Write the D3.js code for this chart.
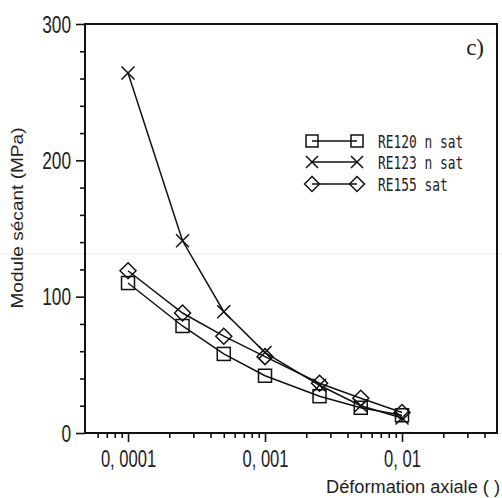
<!DOCTYPE html>
<html><head><meta charset="utf-8">
<script src="https://cdn.jsdelivr.net/npm/d3@7"></script>
<style>body{margin:0;background:#fff}svg{display:block}</style>
</head><body>
<svg id="c" width="502" height="498"></svg>
<script>
const strains = [0.0001, 0.00025, 0.0005, 0.001, 0.0025, 0.005, 0.01];
const re120 = [110, 78.5, 58, 42, 27, 18.5, 13];
const re123 = [264, 141, 89, 59, 35, 20, 11];
const re155 = [119, 88, 71, 56, 36.5, 25.5, 15];
const seriesNames = ["RE120 n sat", "RE123 n sat", "RE155 sat"];
const seriesMarkers = ["square", "cross", "diamond"];
const xMajorTicks = [0.0001, 0.001, 0.01];
const xTickLabels = ["0, 0001", "0, 001", "0, 01"];
const yMajorTicks = [0, 100, 200, 300];
const yTickLabels = ["0", "100", "200", "300"];
const yMinorStep = 20;

const svg = d3.select("#c");
const L = 85, R = 497, T = 24, B = 433;
const x = d3.scaleLog().domain([4.853e-5, 0.04935]).range([L, R]);
const y = d3.scaleLinear().domain([0, 300]).range([B, T]);

// faint scan line
svg.append("line").attr("x1",0).attr("x2",502).attr("y1",254).attr("y2",254)
  .attr("stroke","#e6e6e6").attr("stroke-width",1);

const xMinor = [];
[-5,-4,-3,-2].forEach(e=>{for(let k=2;k<=9;k++){const v=k*Math.pow(10,e); if(v>x.domain()[0]*1.05 && v<x.domain()[1]) xMinor.push(v);}});
const yMinor = d3.range(0, 301, yMinorStep).filter(v=>!yMajorTicks.includes(v));

function narrow(sel, f){
  sel.each(function(){ const w=this.getComputedTextLength(); d3.select(this).attr("textLength", w*f).attr("lengthAdjust","spacingAndGlyphs"); });
}

const gx = svg.append("g").attr("transform",`translate(0,${B})`);
gx.append("g").call(d3.axisBottom(x).tickValues(xMinor).tickSize(5).tickFormat(""));
gx.append("g").call(d3.axisBottom(x).tickValues(xMajorTicks).tickSize(9)
  .tickFormat((d,i)=>xTickLabels[i]));
gx.selectAll(".domain").remove();
gx.selectAll("line").attr("stroke","#111").attr("stroke-width",1.6);
gx.selectAll("text").attr("y",34).attr("dy",0)
  .attr("font-family","'Liberation Sans', Arial, sans-serif")
  .attr("font-size",23).attr("fill","#222").call(narrow, 0.72);

const gy = svg.append("g").attr("transform",`translate(${L},0)`);
gy.append("g").call(d3.axisLeft(y).tickValues(yMinor).tickSize(5).tickFormat(""));
gy.append("g").call(d3.axisLeft(y).tickValues(yMajorTicks).tickSize(9)
  .tickFormat((d,i)=>yTickLabels[i]));
gy.selectAll(".domain").remove();
gy.selectAll("line").attr("stroke","#111").attr("stroke-width",1.6);
gy.selectAll("text").attr("x",-14).attr("dy","0.36em")
  .attr("font-family","'Liberation Sans', Arial, sans-serif")
  .attr("font-size",23).attr("fill","#222").call(narrow, 0.75);

svg.append("rect").attr("x",L).attr("y",T).attr("width",R-L).attr("height",B-T)
  .attr("fill","none").attr("stroke","#111").attr("stroke-width",2);

function marker(g, type, cx, cy, s){
  if(type==="square"){
    g.append("rect").attr("x",cx-s/2).attr("y",cy-s/2).attr("width",s).attr("height",s)
      .attr("fill","none").attr("stroke","#111").attr("stroke-width",1.5);
  } else if(type==="cross"){
    g.append("path").attr("d",`M${cx-s/2},${cy-s/2}L${cx+s/2},${cy+s/2}M${cx-s/2},${cy+s/2}L${cx+s/2},${cy-s/2}`)
      .attr("stroke","#111").attr("stroke-width",1.5).attr("fill","none");
  } else {
    g.append("path").attr("d",`M${cx},${cy-s/2}L${cx+s/2},${cy}L${cx},${cy+s/2}L${cx-s/2},${cy}Z`)
      .attr("stroke","#111").attr("stroke-width",1.5).attr("fill","none");
  }
}
const sizes = {square:13, cross:13, diamond:16};
const allSeries = [re120, re123, re155];
const line = d3.line().x(d=>x(d[0])).y(d=>y(d[1]));
allSeries.forEach((vals,i)=>{
  const pts = strains.map((s,j)=>[s, vals[j]]);
  const g = svg.append("g");
  g.append("path").attr("d", line(pts)).attr("fill","none").attr("stroke","#111").attr("stroke-width",1.5);
  pts.forEach(p=>marker(g, seriesMarkers[i], x(p[0]), y(p[1]), sizes[seriesMarkers[i]]));
});

const legY = [141, 162, 184];
const legSizes = {square:12, cross:12, diamond:15};
seriesNames.forEach((n,i)=>{
  const g = svg.append("g");
  g.append("line").attr("x1",312).attr("x2",357).attr("y1",legY[i]).attr("y2",legY[i])
    .attr("stroke","#111").attr("stroke-width",1.5);
  marker(g, seriesMarkers[i], 312, legY[i], legSizes[seriesMarkers[i]]);
  marker(g, seriesMarkers[i], 357, legY[i], legSizes[seriesMarkers[i]]);
  g.append("text").attr("x",378).attr("y",legY[i]+6.5).text(n)
    .attr("font-family","'DejaVu Sans Mono', monospace").attr("font-size",18)
    .attr("textLength", n.length*7.75).attr("lengthAdjust","spacingAndGlyphs").attr("fill","#222");
});

svg.append("text").attr("x",484).attr("y",55).attr("text-anchor","end").text("c)")
  .attr("font-family","'Liberation Serif', serif").attr("font-size",23).attr("fill","#222");

svg.append("text").attr("transform","translate(23,218) rotate(-90)").attr("text-anchor","middle")
  .text("Module sécant (MPa)").attr("font-family","'Liberation Sans', Arial, sans-serif")
  .attr("font-size",17).attr("textLength",181).attr("lengthAdjust","spacingAndGlyphs").attr("fill","#222");
svg.append("text").attr("x",326).attr("y",493).text("Déformation axiale ( )")
  .attr("font-family","'Liberation Sans', Arial, sans-serif").attr("font-size",17.5)
  .attr("textLength",174).attr("lengthAdjust","spacingAndGlyphs").attr("fill","#222");
</script>
</body></html>
